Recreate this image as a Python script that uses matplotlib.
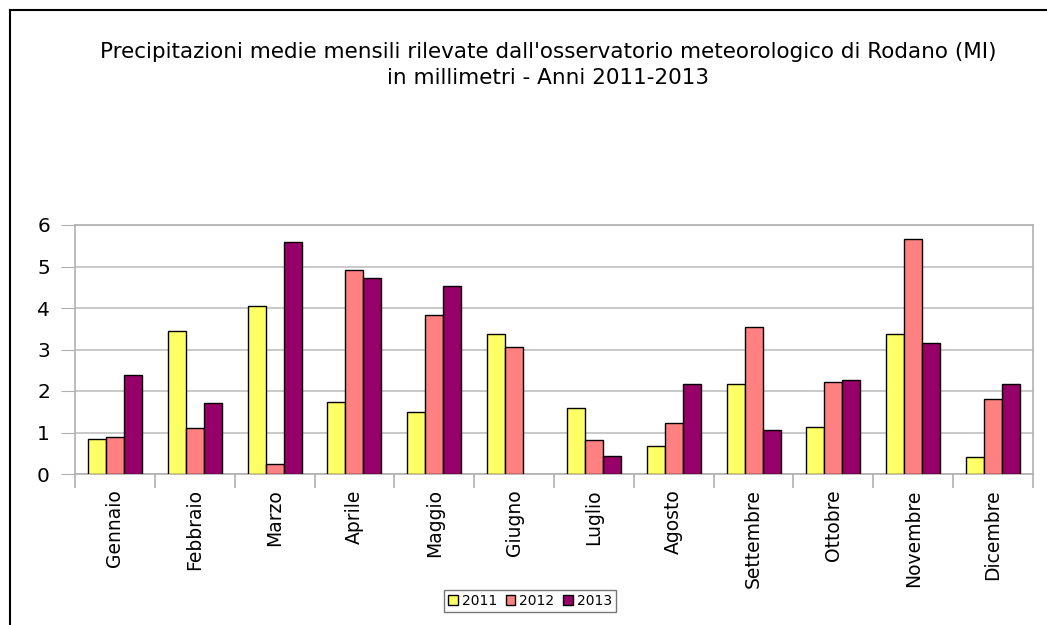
import numpy as np
import matplotlib
matplotlib.use("Agg")
import matplotlib.pyplot as plt
from matplotlib.lines import Line2D
from matplotlib.patches import Patch

months = ["Gennaio", "Febbraio", "Marzo", "Aprile", "Maggio", "Giugno",
          "Luglio", "Agosto", "Settembre", "Ottobre", "Novembre", "Dicembre"]
years = ["2011", "2012", "2013"]
rain_2011 = [0.85, 3.44, 4.06, 1.73, 1.50, 3.37, 1.58, 0.67, 2.16, 1.14, 3.37, 0.41]
rain_2012 = [0.89, 1.12, 0.23, 4.92, 3.82, 3.07, 0.82, 1.23, 3.55, 2.22, 5.67, 1.81]
rain_2013 = [2.39, 1.70, 5.58, 4.72, 4.54, 0.0, 0.43, 2.17, 1.05, 2.26, 3.16, 2.17]
colors = ["#FFFF66", "#FF8080", "#960068"]

W, H = 1047, 625
fig = plt.figure(figsize=(W / 100, H / 100), dpi=100)
ax = fig.add_axes([75 / W, 1 - 474 / H, (1033 - 75) / W, (474 - 225) / H])

x = np.arange(len(months))
bw = 0.226
for i, (vals, c) in enumerate(zip([rain_2011, rain_2012, rain_2013], colors)):
    bars = ax.bar(x + (i - 1) * bw, vals, bw, color=c, edgecolor="black", linewidth=1, zorder=3)
    for b, v in zip(bars, vals):
        if v == 0:
            b.set_linewidth(0)  # empty month: no visible bar

ax.set_xlim(-0.5, len(months) - 0.5)
ax.set_ylim(0, 6)
ax.set_yticks(range(7))
ax.yaxis.grid(True, color="#c0c0c0", linewidth=1.2, zorder=0)
ax.tick_params(axis="y", length=10, color="#b0b0b0", labelsize=14.5, pad=8)

ax.set_xticks(x)
ax.set_xticklabels(months, rotation=90, fontsize=13.5)
ax.tick_params(axis="x", which="major", length=0, pad=11)
ax.set_xticks(np.arange(-0.5, len(months)), minor=True)
ax.tick_params(axis="x", which="minor", length=10, color="#b0b0b0", width=1.2)

for s in ax.spines.values():
    s.set_color("#b0b0b0")
    s.set_linewidth(1.2)

fig.text(548 / W, 1 - 65 / H,
         "Precipitazioni medie mensili rilevate dall'osservatorio meteorologico di Rodano (MI)\n"
         "in millimetri - Anni 2011-2013",
         ha="center", va="center", fontsize=15.5, linespacing=1.4)

handles = [Patch(facecolor=c, edgecolor="black", linewidth=1) for c in colors]
leg = fig.legend(handles, years, loc="center", bbox_to_anchor=(530 / W, 1 - 601 / H),
                 ncol=3, fontsize=10, handlelength=0.7, handleheight=0.7,
                 handletextpad=0.3, columnspacing=0.6, fancybox=False,
                 borderpad=0.3, borderaxespad=0)
leg.get_frame().set_edgecolor("#555555")
leg.get_frame().set_linewidth(1)

# outer chart border (left and top visible)
fig.add_artist(Line2D([10 / W, 10 / W], [0, 1 - 10 / H], color="black", linewidth=1.5))
fig.add_artist(Line2D([10 / W, 1], [1 - 10 / H, 1 - 10 / H], color="black", linewidth=1.5))

fig.savefig("out.png", dpi=100)
